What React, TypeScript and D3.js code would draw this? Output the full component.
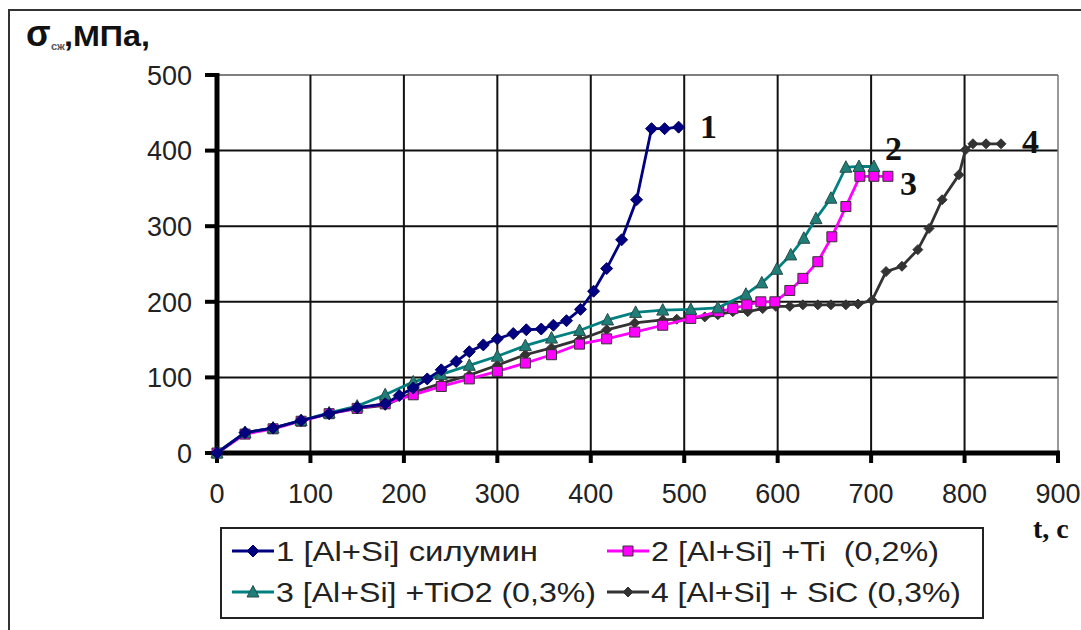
import React from 'react';
import * as d3 from 'd3';

// t, c  /  σ, MPa
const silumin: [number, number][] = [
  [0, 0], [30, 27], [60, 33], [90, 43], [120, 52], [150, 60], [180, 65], [195, 76],
  [210, 86], [225, 98], [240, 110], [256, 121], [270, 134], [285, 143], [300, 151],
  [317, 158], [331, 163], [347, 164], [360, 169], [374, 175], [389, 190], [403, 214],
  [417, 244], [433, 282], [449, 335], [465, 429], [479, 429], [494, 431],
];
const withTi: [number, number][] = [
  [0, 0], [30, 25], [60, 32], [90, 42], [120, 52], [150, 59], [180, 65], [210, 77],
  [240, 88], [270, 98], [300, 108], [330, 119], [358, 130], [388, 144], [417, 151],
  [447, 160], [477, 169], [507, 178], [537, 187], [552, 191], [567, 196], [582, 200],
  [597, 200], [613, 215], [627, 231], [643, 253], [658, 286], [673, 326], [688, 366],
  [703, 366], [718, 366],
];
const withTiO2: [number, number][] = [
  [0, 0], [30, 27], [60, 33], [90, 43], [120, 53], [150, 62], [180, 77], [210, 94],
  [240, 104], [270, 116], [300, 128], [330, 142], [358, 152], [388, 162], [418, 176],
  [448, 186], [477, 189], [507, 190], [536, 192], [566, 210], [583, 225], [599, 243],
  [614, 262], [628, 284], [641, 310], [657, 337], [673, 378], [687, 379], [703, 379],
];
const withSiC: [number, number][] = [
  [0, 0], [30, 27], [60, 33], [90, 43], [120, 52], [150, 59], [180, 63], [210, 80],
  [240, 92], [270, 103], [300, 116], [330, 130], [358, 139], [388, 150], [417, 163],
  [447, 172], [477, 176], [492, 177], [507, 178], [522, 180], [536, 183], [552, 187],
  [568, 187], [584, 191], [598, 194], [613, 194], [627, 196], [643, 196], [657, 196],
  [673, 196], [686, 197], [701, 202], [716, 240], [733, 247], [750, 269], [762, 297],
  [776, 335], [794, 368], [801, 401], [809, 409], [823, 409], [839, 409],
];

const xTicks = [0, 100, 200, 300, 400, 500, 600, 700, 800, 900];
const yTicks = [0, 100, 200, 300, 400, 500];

const legendNames = [
  '1 [Al+Si] силумин',
  '2 [Al+Si] +Ti  (0,2%)',
  '3 [Al+Si] +TiO2 (0,3%)',
  '4 [Al+Si] + SiC (0,3%)',
];
// widths the legend texts take in the source
const legendWidths = [262, 288, 320, 310];

const W = 1081;
const H = 630;

const x = d3.scaleLinear().domain([0, 900]).range([217, 1058]);
const y = d3.scaleLinear().domain([0, 500]).range([453, 75]);

const line = d3.line<[number, number]>()
  .x(d => x(d[0]))
  .y(d => y(d[1]));

type Marker = 'diamond' | 'square' | 'triangle' | 'dot';

function markerPath(kind: Marker): string {
  if (kind === 'diamond') return 'M0,-6L6,0L0,6L-6,0Z';
  if (kind === 'square') return 'M-5,-5H5V5H-5Z';
  if (kind === 'triangle') return 'M0,-6.5L6,5H-6Z';
  return 'M0,-5L5,0L0,5L-5,0Z';
}

const series = [
  { data: silumin, color: '#000080', fill: '#000080', stroke: '#000060', marker: 'diamond' as Marker },
  { data: withTi, color: '#ff00ff', fill: '#ff00ff', stroke: '#333333', marker: 'square' as Marker },
  { data: withTiO2, color: '#008080', fill: '#1f7f78', stroke: '#2a4a48', marker: 'triangle' as Marker },
  { data: withSiC, color: '#333333', fill: '#333333', stroke: '#333333', marker: 'dot' as Marker },
];

// dark gray first so the coloured curves sit on top like in the source
const drawOrder = [3, 1, 2, 0];

export default function App() {
  const font = '"Liberation Sans", Arial, sans-serif';
  const serif = '"Liberation Serif", "Times New Roman", serif';

  const legendItems = [
    { s: 0, lx: 232, ly: 551 },
    { s: 1, lx: 607, ly: 551 },
    { s: 2, lx: 232, ly: 592 },
    { s: 3, lx: 607, ly: 592 },
  ];

  return (
    <svg width={W} height={H} style={{ position: 'absolute', left: 0, top: 0, background: '#fff' }}>
      {/* outer chart frame, cut by the picture edge */}
      <path d={`M9,${H}V10H${W}`} fill="none" stroke="#333" strokeWidth={2} />

      {/* grid */}
      {yTicks.filter(v => v > 0).map(v => (
        <line key={'gy' + v} x1={x(0)} x2={x(900)} y1={y(v)} y2={y(v)}
          stroke={v === 500 ? '#555' : '#111'} strokeWidth={v === 500 ? 1.5 : 2} />
      ))}
      {xTicks.filter(v => v > 0).map(v => (
        <line key={'gx' + v} x1={x(v)} x2={x(v)} y1={y(0)} y2={y(500)}
          stroke={v === 900 ? '#777' : '#111'} strokeWidth={v === 900 ? 1.5 : 2} />
      ))}

      {/* axes */}
      <line x1={x(0)} x2={x(0)} y1={y(0) + 2} y2={y(500) - 2} stroke="#000" strokeWidth={5} />
      <line x1={x(0) - 2} x2={x(900) + 2} y1={y(0)} y2={y(0)} stroke="#000" strokeWidth={5} />
      {yTicks.map(v => (
        <line key={'ty' + v} x1={x(0) - 12} x2={x(0)} y1={y(v)} y2={y(v)} stroke="#000" strokeWidth={4} />
      ))}
      {xTicks.map(v => (
        <line key={'tx' + v} x1={x(v)} x2={x(v)} y1={y(0)} y2={y(0) + 10} stroke="#000" strokeWidth={4} />
      ))}

      {/* tick labels */}
      {yTicks.map(v => (
        <text key={'ly' + v} x={192} y={y(v)} dy="0.36em" textAnchor="end"
          fontFamily={font} fontSize={27} fill="#222">{v}</text>
      ))}
      {xTicks.map(v => (
        <text key={'lx' + v} x={x(v)} y={503} textAnchor="middle"
          fontFamily={font} fontSize={27} fill="#222">{v}</text>
      ))}

      {/* axis titles */}
      <text x={26} y={46} fontFamily={font} fontWeight="bold" fontSize={36} fill="#111">σ</text>
      <text x={51} y={50} fontFamily={font} fontWeight="bold" fontSize={11} fill="#555">сж</text>
      <text x={64} y={46} fontFamily={font} fontWeight="bold" fontSize={30} fill="#111"
        textLength={86} lengthAdjust="spacingAndGlyphs">,МПа,</text>
      <text x={1033} y={538} fontFamily={serif} fontWeight="bold" fontSize={28} fill="#111">t, c</text>

      {/* curves */}
      {drawOrder.map(i => {
        const s = series[i];
        return (
          <g key={'s' + i}>
            <path d={line(s.data) || ''} fill="none" stroke={s.color} strokeWidth={2.8} />
            {s.data.map((d, j) => (
              <path key={j} d={markerPath(s.marker)} transform={`translate(${x(d[0])},${y(d[1])})`}
                fill={s.fill} stroke={s.stroke} strokeWidth={1} />
            ))}
          </g>
        );
      })}

      {/* curve numbers */}
      <text x={700} y={138} fontFamily={serif} fontWeight="bold" fontSize={34} fill="#111">1</text>
      <text x={885} y={160} fontFamily={serif} fontWeight="bold" fontSize={34} fill="#111">2</text>
      <text x={900} y={195} fontFamily={serif} fontWeight="bold" fontSize={34} fill="#111">3</text>
      <text x={1022} y={153} fontFamily={serif} fontWeight="bold" fontSize={34} fill="#111">4</text>

      {/* legend */}
      <rect x={221} y={528} width={762} height={90} fill="#fff" stroke="#222" strokeWidth={2} />
      {legendItems.map(it => {
        const s = series[it.s];
        return (
          <g key={'lg' + it.s}>
            <line x1={it.lx} x2={it.lx + 42} y1={it.ly} y2={it.ly} stroke={s.color} strokeWidth={2.8} />
            <path d={markerPath(s.marker)} transform={`translate(${it.lx + 21},${it.ly})`}
              fill={s.fill} stroke={s.stroke} strokeWidth={1} />
            <text x={it.lx + 44} y={it.ly} dy="0.36em" fontFamily={font} fontSize={28} fill="#222"
              style={{ whiteSpace: 'pre' }}
              textLength={legendWidths[it.s]} lengthAdjust="spacingAndGlyphs">
              {legendNames[it.s]}
            </text>
          </g>
        );
      })}
    </svg>
  );
}
